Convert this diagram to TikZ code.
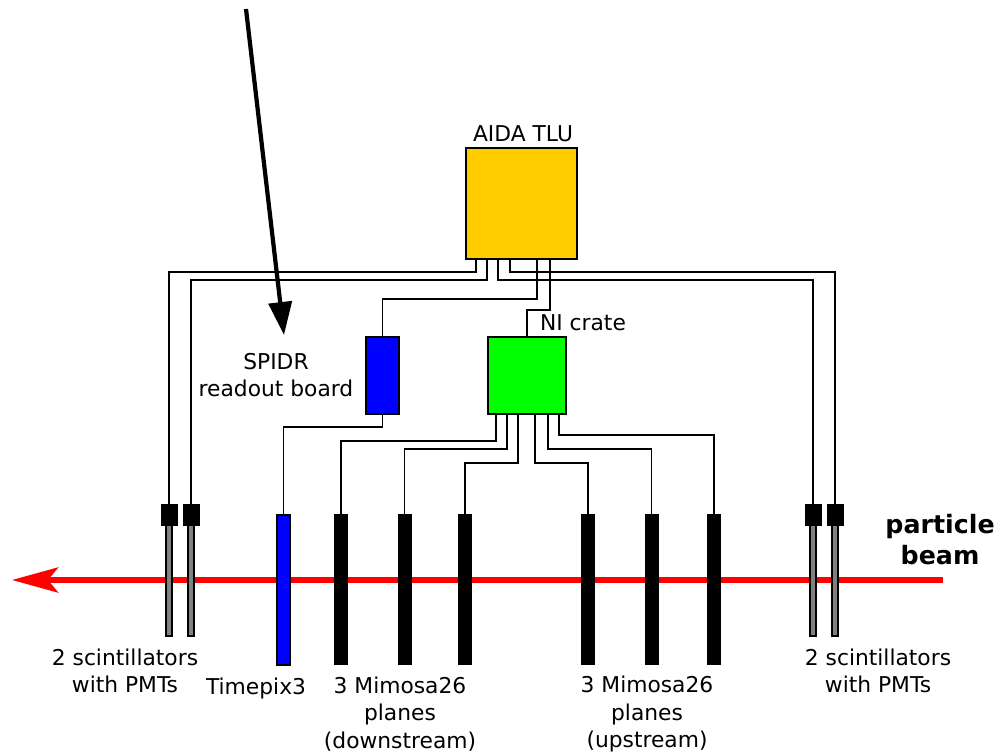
\documentclass[tikz,border=0pt]{standalone}
\usepackage{fontspec}
\setmainfont{DejaVu Sans}
\usetikzlibrary{arrows.meta,calc}
\definecolor{tluyellow}{HTML}{FFCC00}
\begin{document}
\begin{tikzpicture}[x=0.02cm, y=-0.02cm, line join=miter,
	box/.style={draw, line width=1pt, inner sep=0pt},
	wire/.style={line width=1.1pt},
	lbl/.style={align=center, font=\fontsize{12.4}{15.5}\selectfont},
	plane/.style={fill=black, minimum width=0.28cm, minimum height=3.02cm, inner sep=0pt},
	pmt/.style={draw, fill=black, line width=0.5pt, minimum width=0.32cm, minimum height=0.42cm, inner sep=0pt},
	scint/.style={draw, fill=gray, line width=0.8pt, minimum width=0.12cm, minimum height=2.22cm, inner sep=0pt}]
	\useasboundingbox (0,0) rectangle (1000,754);
	% Strahl
	\draw[red, line width=3.4pt, -{Stealth[length=0.92cm, width=0.5cm, inset=0.2cm]}] (943,580) -- (12,580);
	% Kästen
	\node[box, fill=tluyellow, minimum width=2.22cm, minimum height=2.22cm] (tlu) at (521.5,203.5) {};
	\node[box, fill=blue, minimum width=0.66cm, minimum height=1.54cm] (spidr) at (382.5,375.5) {};
	\node[box, fill=green, minimum width=1.56cm, minimum height=1.54cm] (crate) at (527,375.5) {};
	% Szintillatoren
	\node[scint] (scA) at (169,580.5) {};
	\node[scint] (scB) at (191,580.5) {};
	\node[scint] (scC) at (813,580.5) {};
	\node[scint] (scD) at (835,580.5) {};
	\node[pmt] (pmtA) at (169,514.5) {};
	\node[pmt] (pmtB) at (191,514.5) {};
	\node[pmt] (pmtC) at (813,514.5) {};
	\node[pmt] (pmtD) at (835,514.5) {};
	% Ebenen
	\node[box, fill=blue, line width=0.8pt, minimum width=0.26cm, minimum height=3cm] (tpx) at (283.5,590) {};
	\node[plane] (mimA) at (341,589.5) {};
	\node[plane] (mimB) at (404.5,589.5) {};
	\node[plane] (mimC) at (465,589.5) {};
	\node[plane] (mimD) at (588,589.5) {};
	\node[plane] (mimE) at (651.5,589.5) {};
	\node[plane] (mimF) at (714,589.5) {};
	% Kabel TLU
	\draw[wire] (tlu.south west) ++(11,0) -- ++(0,12) -| (pmtA.north);
	\draw[wire] (tlu.south west) ++(22,0) -- ++(0,20) -| (pmtB.north);
	\draw[wire] (tlu.south west) ++(33,0) -- ++(0,20) -| (pmtC.north);
	\draw[wire] (tlu.south west) ++(45,0) -- ++(0,12) -| (pmtD.north);
	\draw[wire] (tlu.south west) ++(72,0) -- ++(0,39) -| (spidr.north);
	\draw[wire] (tlu.south west) ++(85,0) -- ++(0,50) -| (crate.north);
	% Kabel NI crate
	\draw[wire] (crate.south west) ++(9,0) -- ++(0,26) -| (mimA.north);
	\draw[wire] (crate.south west) ++(20,0) -- ++(0,34) -| (mimB.north);
	\draw[wire] (crate.south west) ++(31,0) -- ++(0,48) -| (mimC.north);
	\draw[wire] (crate.south west) ++(48,0) -- ++(0,48) -| (mimD.north);
	\draw[wire] (crate.south west) ++(61,0) -- ++(0,34) -| (mimE.north);
	\draw[wire] (crate.south west) ++(72,0) -- ++(0,20) -| (mimF.north);
	\draw[wire] (spidr.south) -- ++(0,12) -| (tpx.north);
	% Pfeil
	\coordinate (spidrtip) at (284,335);
	\draw[line width=2.4pt, -{Triangle[length=0.66cm, width=0.46cm]}] (246,9) -- (spidrtip);
	% Beschriftung
	\node[lbl] (tlulbl) at (523,134) {AIDA TLU};
	\node[lbl] (cratelbl) at (583,323) {NI crate};
	\node[lbl] (spidrlbl) at (276,375) {SPIDR\\readout board};
	\node[lbl] (scleft) at (125,671) {2 scintillators\\with PMTs};
	\node[lbl] (scright) at (878,671) {2 scintillators\\with PMTs};
	\node[lbl] (tpxlbl) at (256,688) {Timepix3};
	\node[lbl] (downlbl) at (400,714) {3 Mimosa26\\planes\\(downstream)};
	\node[lbl] (uplbl) at (647,714) {3 Mimosa26\\planes\\(upstream)};
	\node[align=center, font=\fontsize{14.4}{17.6}\selectfont\bfseries] (beamlbl) at (940,540) {particle\\beam};
\end{tikzpicture}
\end{document}
